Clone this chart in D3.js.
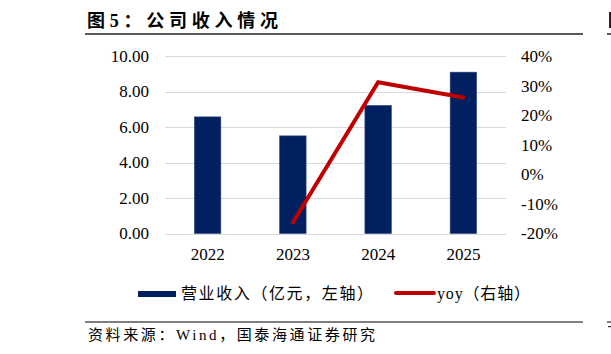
<!DOCTYPE html>
<html>
<head>
<meta charset="utf-8">
<script src="https://cdn.jsdelivr.net/npm/d3@7"></script>
<style>
  body { margin: 0; background: #fff; }
  svg { display: block; font-family: "Liberation Serif", "Noto Sans CJK SC", serif; }
</style>
</head>
<body>
<svg id="chart-svg" width="611" height="354"></svg>
<script>
// Chart data
const years = ["2022", "2023", "2024", "2025"];
const revenue = [6.57, 5.50, 7.21, 9.09];      // 营业收入（亿元）
const yoy = [null, -16.3, 31.1, 26.0];           // yoy %
const leftTicks = [0, 2, 4, 6, 8, 10];
const rightTicks = [-20, -10, 0, 10, 20, 30, 40];

const titleText = "图5：公司收入情况";
const sourceText = "资料来源：Wind，国泰海通证券研究";
const legendBar = "营业收入（亿元，左轴）";
const legendLine = "yoy（右轴）";

const svg = d3.select("#chart-svg");
const fontStack = "'Liberation Serif', 'Noto Sans CJK SC', serif";

// plot area
const plot = {left: 165, right: 506, top: 56, bottom: 233.5};

const xScale = d3.scaleBand()
    .domain(years)
    .range([plot.left, plot.right])
    .paddingInner(0.69)
    .paddingOuter(0.345);

const yLeft = d3.scaleLinear().domain([0, 10]).range([plot.bottom, plot.top]);
const yRight = d3.scaleLinear().domain([-20, 40]).range([plot.bottom, plot.top]);

// strip d3's default axis font and domain path
const styleAxis = g => {
    g.select(".domain").remove();
    g.attr("font-family", fontStack).attr("font-size", 17);
    g.selectAll(".tick text").attr("fill", "#000");
};

// Title + header rule
svg.append("text")
    .attr("x", 87).attr("y", 27)
    .attr("font-family", fontStack).attr("font-size", 18).attr("font-weight", "bold")
    .attr("textLength", 191).attr("lengthAdjust", "spacing")
    .text(titleText);
svg.append("line").attr("x1", 85).attr("x2", 583).attr("y1", 34).attr("y2", 34)
    .attr("stroke", "#222").attr("stroke-width", 1.5);

// neighbour column fragments (cut by the picture edge)
svg.append("rect").attr("x", 609).attr("y", 12).attr("width", 2).attr("height", 16).attr("fill", "#222");
svg.append("line").attr("x1", 607).attr("x2", 611).attr("y1", 34).attr("y2", 34)
    .attr("stroke", "#222").attr("stroke-width", 1.5);

// Gridlines
svg.append("g")
    .selectAll("line")
    .data(leftTicks)
    .join("line")
    .attr("x1", plot.left).attr("x2", plot.right)
    .attr("y1", d => Math.round(yLeft(d)) + 0.5).attr("y2", d => Math.round(yLeft(d)) + 0.5)
    .attr("stroke", "#d9d9d9").attr("stroke-width", 1);

// Left axis
svg.append("g")
    .attr("transform", "translate(" + plot.left + ",0)")
    .call(d3.axisLeft(yLeft).tickValues(leftTicks).tickSize(0).tickPadding(16).tickFormat(d3.format(".2f")))
    .call(styleAxis);

// Right axis
svg.append("g")
    .attr("transform", "translate(" + plot.right + ",0)")
    .call(d3.axisRight(yRight).tickValues(rightTicks).tickSize(0).tickPadding(15).tickFormat(d => d + "%"))
    .call(styleAxis);

// X axis
svg.append("g")
    .attr("transform", "translate(0," + plot.bottom + ")")
    .call(d3.axisBottom(xScale).tickSize(0).tickPadding(14))
    .call(styleAxis);

// Bars
svg.append("g")
    .selectAll("rect")
    .data(years)
    .join("rect")
    .attr("x", d => xScale(d))
    .attr("width", xScale.bandwidth())
    .attr("y", (d, i) => yLeft(revenue[i]))
    .attr("height", (d, i) => yLeft(0) - yLeft(revenue[i]))
    .attr("fill", "#002060")
    .attr("stroke", "#2a4578").attr("stroke-width", 0.6);

// yoy line
const linePts = years.map((d, i) => ({year: d, v: yoy[i]})).filter(d => d.v !== null);
svg.append("path")
    .datum(linePts)
    .attr("fill", "none")
    .attr("stroke", "#c00000")
    .attr("stroke-width", 4)
    .attr("stroke-linecap", "round")
    .attr("d", d3.line()
        .x(d => xScale(d.year) + xScale.bandwidth() / 2)
        .y(d => yRight(d.v)));

// Legend
svg.append("rect").attr("x", 138).attr("y", 291).attr("width", 38).attr("height", 6).attr("fill", "#002060");
svg.append("text").attr("x", 181).attr("y", 299)
    .attr("font-family", fontStack).attr("font-size", 16)
    .attr("textLength", 192).attr("lengthAdjust", "spacing")
    .text(legendBar);
svg.append("line").attr("x1", 396).attr("x2", 434).attr("y1", 293).attr("y2", 293)
    .attr("stroke", "#c00000").attr("stroke-width", 4).attr("stroke-linecap", "round");
svg.append("text").attr("x", 437).attr("y", 299)
    .attr("font-family", fontStack).attr("font-size", 16)
    .attr("textLength", 93).attr("lengthAdjust", "spacing")
    .text(legendLine);

// Footer rule + source
svg.append("line").attr("x1", 85).attr("x2", 583).attr("y1", 322).attr("y2", 322)
    .attr("stroke", "#555").attr("stroke-width", 1.5);
svg.append("line").attr("x1", 607).attr("x2", 611).attr("y1", 322).attr("y2", 322)
    .attr("stroke", "#555").attr("stroke-width", 1.5);
svg.append("rect").attr("x", 608).attr("y", 326).attr("width", 3).attr("height", 1.2).attr("fill", "#333");
svg.append("text").attr("x", 88).attr("y", 340)
    .attr("font-family", fontStack).attr("font-size", 15)
    .attr("textLength", 287).attr("lengthAdjust", "spacing")
    .text(sourceText);
</script>
</body>
</html>
